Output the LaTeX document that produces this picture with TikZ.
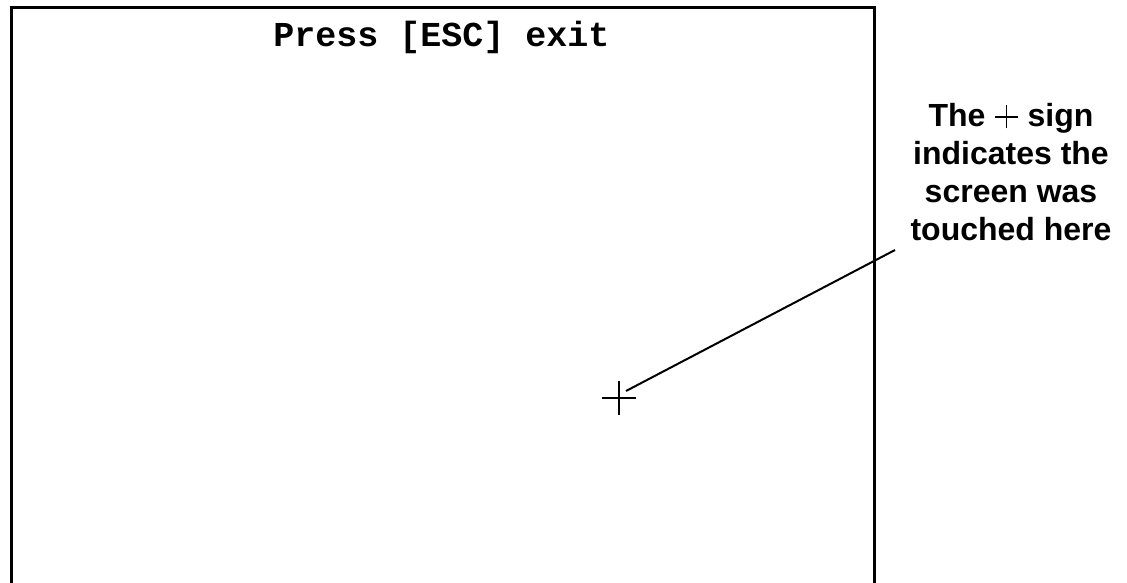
\documentclass[tikz,border=0pt]{standalone}
\usepackage{fontspec}
\setmainfont{Liberation Sans}
\newfontfamily\monob{Liberation Mono}[BoldFont={* Bold}]
\newcommand{\plussign}{\tikz[baseline=-9.5pt]{\draw[line width=1.5pt] (0pt,-11.5pt) -- (0pt,11.5pt) (-11.5pt,0pt) -- (11.5pt,0pt);}}
\begin{document}
\begin{tikzpicture}[x=1pt,y=-1pt,
  frame/.style={line width=3pt,line join=miter},
  thin/.style={line width=1.6pt},
  leader/.style={line width=2pt},
  titletext/.style={inner sep=0pt,anchor=base,font=\monob\bfseries\fontsize{35}{40}\selectfont},
  notetext/.style={inner sep=0pt,align=center,font=\bfseries\fontsize{32}{38}\selectfont}]
\useasboundingbox (0,0) rectangle (1127,583);
\draw[frame] (11,590) -- (11,8) -- (874,8) -- (874,590);
\node[titletext] (title) at (441.5,47) {Press [ESC] exit};
\coordinate (plus) at (619,398);
\draw[thin] ([xshift=-17pt]plus) -- ([xshift=17pt]plus);
\draw[thin] ([yshift=-17pt]plus) -- ([yshift=17pt]plus);
\node[notetext,anchor=north] (note) at (1011,103) {The \plussign{} sign\\indicates the\\screen was\\touched here};
\coordinate (lead) at (895,250);
\draw[leader] ([shift={(7pt,7pt)}]plus) -- (lead);
\end{tikzpicture}
\end{document}
